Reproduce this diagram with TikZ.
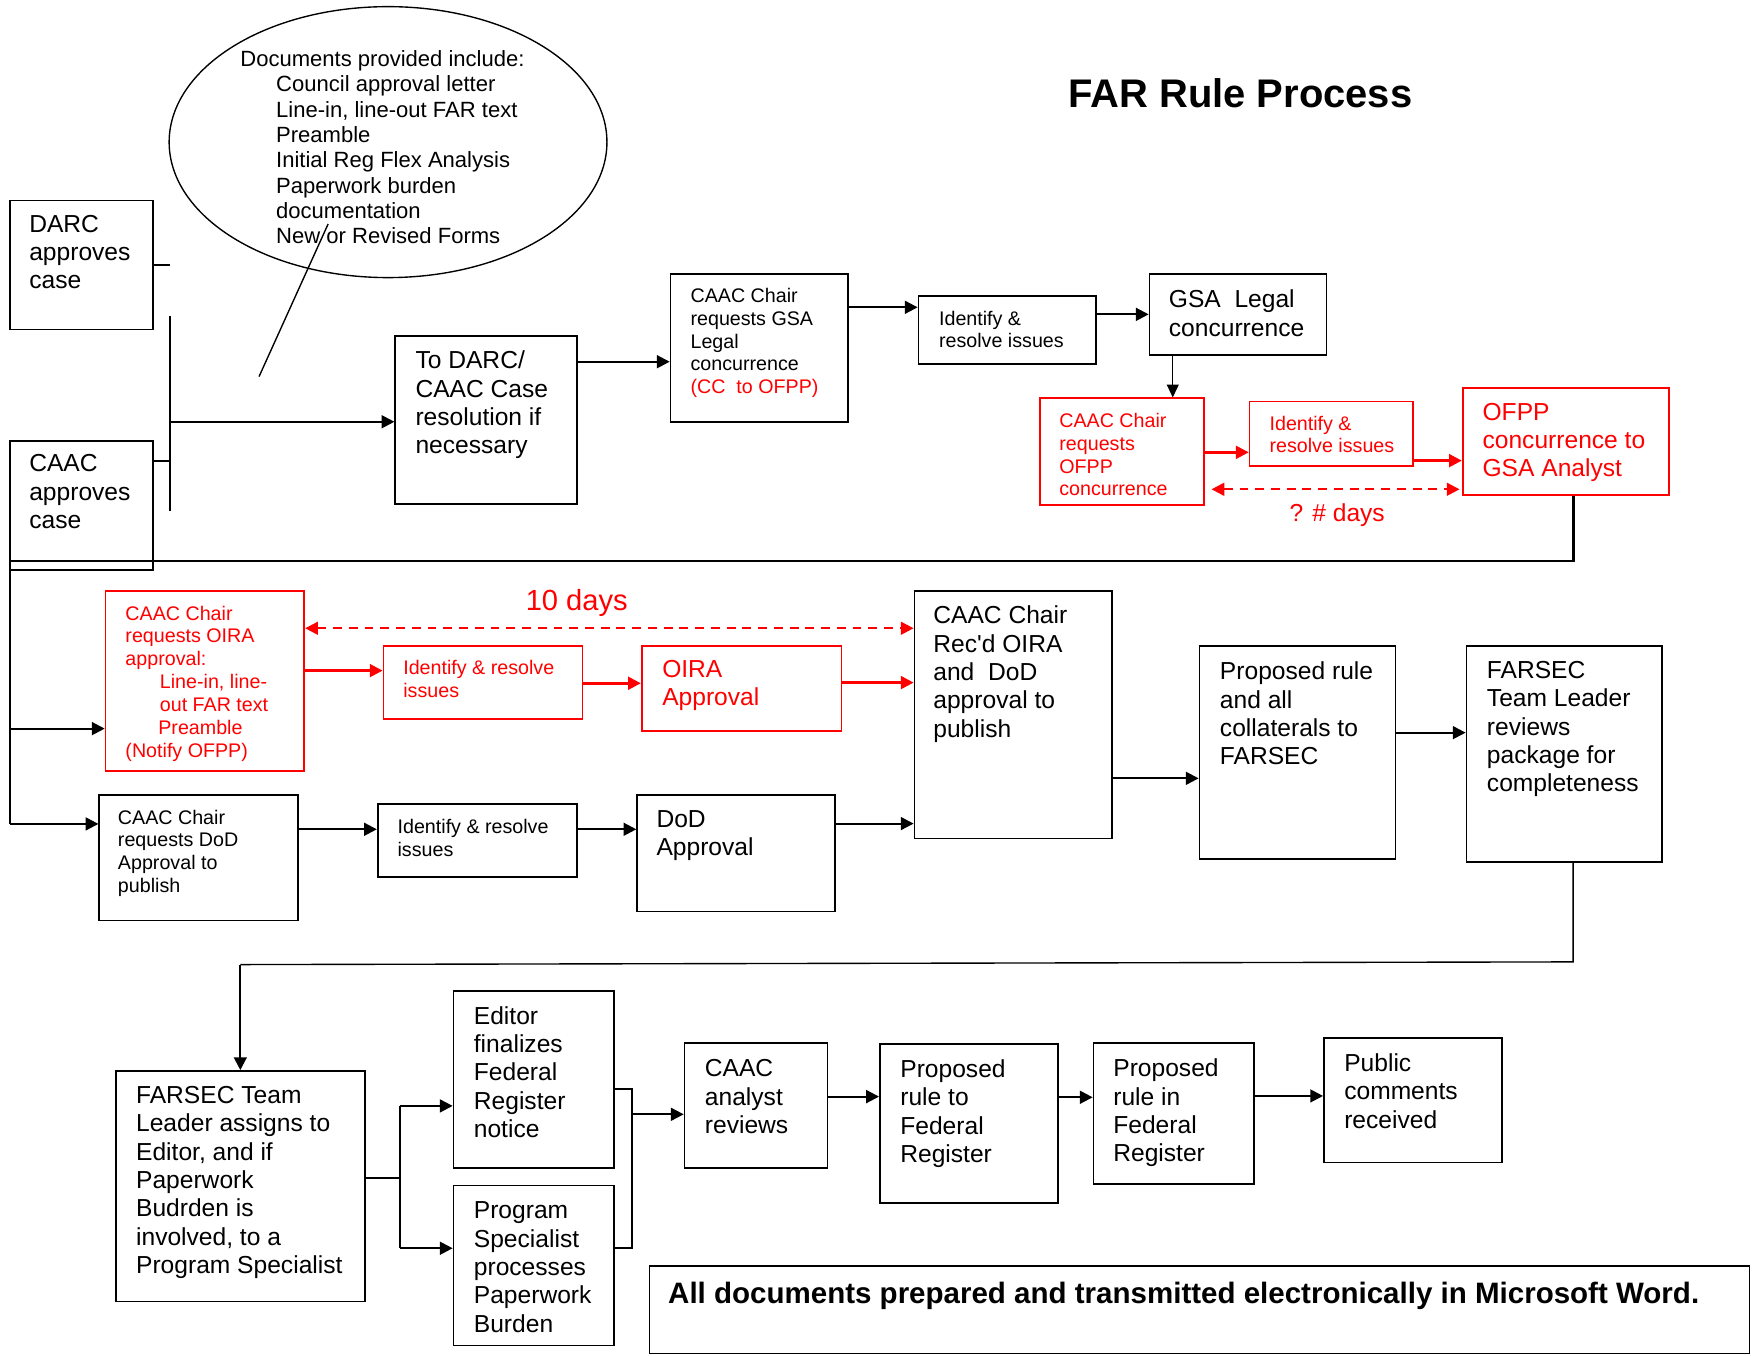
\documentclass[tikz,border=0pt]{standalone}
\usepackage{fontspec}
\setmainfont{Liberation Sans}
\usetikzlibrary{arrows.meta,fit,calc,shapes.geometric}

\begin{document}
\begin{tikzpicture}[x=0.02cm,y=-0.02cm,
  box/.style={draw, line width=0.9pt, inner sep=0pt},
  rbox/.style={box, draw=red},
  big/.style={anchor=north west, inner sep=0pt, align=left,
    font=\fontsize{12.5}{14.4}\selectfont},
  small/.style={anchor=north west, inner sep=0pt, align=left,
    font=\fontsize{10}{11.6}\selectfont},
  conn/.style={line width=1.1pt},
  thin/.style={line width=0.7pt},
  arr/.style={conn, -{Triangle[length=6.5pt,width=6.5pt]}},
  rarr/.style={arr, line width=1.3pt, draw=red, fill=red},
  rdash/.style={line width=1.1pt, draw=red, dash pattern=on 4.5pt off 3.5pt,
    {Triangle[length=6.5pt,width=6.5pt,fill=red]}-{Triangle[length=6.5pt,width=6.5pt,fill=red]}},
]
\useasboundingbox (0,0) rectangle (1568,1210);
\fill[white] (0,0) rectangle (1568,1210);

% ---------- title ----------
\node[font=\bfseries\fontsize{20.3}{23}\selectfont, inner sep=0pt] (title) at (1107.5,83) {FAR Rule Process};

% ---------- documents callout ----------
\node[draw, ellipse, line width=0.7pt, inner sep=0pt,
      minimum width=7.82cm, minimum height=4.84cm] (docs) at (346.5,126.9) {};
\node[anchor=north west, inner sep=0pt, align=left,
      font=\fontsize{11.2}{12.86}\selectfont] (docstxt) at (214.3,44.9)
  {Documents provided include:\\
   \hspace*{18.2pt}Council approval letter\\
   \hspace*{18.2pt}Line-in, line-out FAR text\\
   \hspace*{18.2pt}Preamble\\
   \hspace*{18.2pt}Initial Reg Flex Analysis\\
   \hspace*{18.2pt}Paperwork burden\\
   \hspace*{18.2pt}documentation\\
   \hspace*{18.2pt}New or Revised Forms};
\coordinate (calloutA) at (231.3,336.3);
\coordinate (calloutB) at (293,200);
\draw[thin] (calloutA) -- (calloutB);

% ---------- row 1 ----------
\node[box, fit={(9,179) (136.3,294.3)}] (darc) {};
\node[big] at (25.8,191.7) {DARC\\approves\\case};
\node[box, fit={(9,393.5) (136.3,509.3)}] (caac) {};
\node[big] at (25.8,405.7) {CAAC\\approves\\case};

\node[box, fit={(353,300) (515.5,450)}] (todarc) {};
\node[big] at (370.7,313.2) {To DARC/\\CAAC Case\\resolution if\\necessary};

\node[box, fit={(598.8,244.6) (757.4,377)}] (cgsa) {};
\node[small] at (616.3,257) {CAAC Chair\\requests GSA\\Legal\\concurrence\\\textcolor{red}{(CC\ \ to OFPP)}};

\node[box, fit={(820.2,264) (978.6,324.7)}] (id1) {};
\node[small] at (838.2,277.2) {Identify \&\\resolve issues};

\node[box, fit={(1026.5,244.6) (1184.4,317.3)}] (gsal) {};
\node[big] at (1043.4,258.5) {GSA\ \ Legal\\concurrence};

\node[rbox, fit={(928.8,355.7) (1075,451.2)}] (rofpp) {};
\node[small, text=red] at (945.6,368.6) {CAAC Chair\\requests\\OFPP\\concurrence};

\node[rbox, fit={(1115.8,358.6) (1262,416)}] (id2) {};
\node[small, text=red] at (1133.3,371) {Identify \&\\resolve issues};

\node[rbox, fit={(1306.1,346.7) (1490.4,442.3)}] (ofpp) {};
\node[big, text=red] at (1323.5,359.4) {OFPP\\concurrence to\\GSA Analyst};

\node[text=red, font=\fontsize{12.5}{14.4}\selectfont, inner sep=0pt] (qdays) at (1194,460) {? \# days};

% ---------- row 2 ----------
\node[rbox, fit={(94.3,527.4) (271.7,688.4)}] (roira) {};
\node[small, text=red] at (111.7,540.6)
  {CAAC Chair\\requests OIRA\\approval:\\
   \hspace*{17.5pt}Line-in, line-\\
   \hspace*{17.5pt}out FAR text\\
   \hspace*{16.7pt}Preamble\\
   (Notify OFPP)};

\node[text=red, font=\fontsize{14.8}{17}\selectfont, inner sep=0pt] (tendays) at (515,538) {10 days};

\node[rbox, fit={(342.4,576.5) (520.2,642)}] (id3) {};
\node[small, text=red] at (359.8,589.1) {Identify \& resolve\\issues};

\node[rbox, fit={(573,576.5) (751.4,652.4)}] (oira) {};
\node[big, text=red] at (591,589.4) {OIRA\\Approval};

\node[box, fit={(88.7,710.1) (266,822)}] (cdod) {};
\node[small] at (105,722.8) {CAAC Chair\\requests DoD\\Approval to\\publish};

\node[box, fit={(337.3,718.2) (515.2,783.3)}] (id4) {};
\node[small] at (354.7,731.1) {Identify \& resolve\\issues};

\node[box, fit={(569,710.1) (745.7,814)}] (dod) {};
\node[big] at (585.9,723.3) {DoD\\Approval};

\node[box, fit={(816.6,527.7) (993.2,748.8)}] (recd) {};
\node[big] at (833.1,540.9) {CAAC Chair\\Rec\textquotesingle d OIRA\\and\ \ DoD\\approval to\\publish};

\node[box, fit={(1071.1,576.8) (1246.1,767)}] (prop) {};
\node[big] at (1089,590.9) {Proposed rule\\and all\\collaterals to\\FARSEC};

\node[box, fit={(1309.5,576.8) (1484,769.6)}] (ftl) {};
\node[big] at (1327.4,590.3) {FARSEC\\Team Leader\\reviews\\package for\\completeness};

% ---------- row 3 ----------
\node[box, fit={(103.9,956.3) (326.2,1162.2)}] (fteam) {};
\node[big] at (121.2,969.8) {FARSEC Team\\Leader assigns to\\Editor, and if\\Paperwork\\Budrden is\\involved, to a\\Program Specialist};

\node[box, fit={(405,884.8) (548,1043.2)}] (editor) {};
\node[big] at (422.8,898.3) {Editor\\finalizes\\Federal\\Register\\notice};

\node[box, fit={(405,1058.6) (548,1201.5)}] (prog) {};
\node[big] at (422.8,1073) {Program\\Specialist\\processes\\Paperwork\\Burden};

\node[box, fit={(611.3,931.5) (738.9,1043.2)}] (analyst) {};
\node[big] at (629.1,945.7) {CAAC\\analyst\\reviews};

\node[box, fit={(785.7,932.1) (944.9,1074.4)}] (ptofr) {};
\node[big] at (803.6,946) {Proposed\\rule to\\Federal\\Register};

\node[box, fit={(976.5,931) (1119.4,1057.5)}] (pinfr) {};
\node[big] at (993.8,945.2) {Proposed\\rule in\\Federal\\Register};

\node[box, fit={(1182.2,927.1) (1341.3,1038.1)}] (public) {};
\node[big] at (1200,940.6) {Public\\comments\\received};

\node[box, fit={(580,1130.2) (1562.2,1208.5)}] (note) {};
\node[anchor=west, inner sep=0pt, font=\bfseries\fontsize{15}{17}\selectfont] at (596.3,1157)
  {All documents prepared and transmitted electronically in Microsoft Word.};

% ---------- connectors: row 1 ----------
\coordinate (busT) at (151.8,282.4);
\coordinate (busB) at (151.8,456.5);
\draw[conn] (darc.east |- 0,236.9) -- (busT |- 0,236.9);
\draw[conn] (caac.east |- 0,411.6) -- (busT |- 0,411.6);
\draw[conn] (busT) -- (busB);
\draw[arr] (busT |- 0,376.6) -- (todarc.west |- 0,376.6);
\draw[arr] (todarc.east |- 0,323) -- (cgsa.west |- 0,323);
\draw[arr] (cgsa.east |- 0,274.4) -- (id1.west |- 0,274.4);
\draw[arr] (id1.east |- 0,280.7) -- (gsal.west |- 0,280.7);
\draw[thin, -{Triangle[length=6.5pt,width=6pt]}] (gsal.south -| 1047.2,0) -- (rofpp.north -| 1047.2,0);
\draw[rarr] (rofpp.east |- 0,403.9) -- (id2.west |- 0,403.9);
\draw[rarr] (id2.east |- 0,411.3) -- (ofpp.west |- 0,411.3);
\draw[rdash] ($(rofpp.east |- 0,436.9)+(6,0)$) -- ($(ofpp.west |- 0,436.9)+(-2,0)$);

% return to the second row
\coordinate (retR) at (1405,500.9);
\coordinate (retL) at (9,500.9);
\draw[conn] (ofpp.south -| retR) -- (retR) -- (retL) -- (retL |- 0,735.7);
\draw[arr] (retL |- 0,735.7) -- (cdod.west |- 0,735.7);
\draw[arr] (retL |- 0,650.6) -- (roira.west |- 0,650.6);

% ---------- connectors: row 2 ----------
\draw[rarr] (roira.east |- 0,598.8) -- (id3.west |- 0,598.8);
\draw[rarr] (id3.east |- 0,610.1) -- (oira.west |- 0,610.1);
\draw[rarr] (oira.east |- 0,609.5) -- (recd.west |- 0,609.5);
\draw[rdash] (roira.east |- 0,561) -- (recd.west |- 0,561);
\draw[arr] (cdod.east |- 0,740.5) -- (id4.west |- 0,740.5);
\draw[arr] (id4.east |- 0,740.5) -- (dod.west |- 0,740.5);
\draw[arr] (dod.east |- 0,735.4) -- (recd.west |- 0,735.4);
\draw[arr] (recd.east |- 0,695) -- (prop.west |- 0,695);
\draw[arr] (prop.east |- 0,654.2) -- (ftl.west |- 0,654.2);

% down to the third row
\coordinate (dnR) at (1404.7,858.9);
\coordinate (dnL) at (214.6,861.3);
\draw[thin] (ftl.south -| dnR) -- (dnR) -- (dnL);
\draw[conn, -{Triangle[length=6.5pt,width=6.5pt]}] (dnL) -- (fteam.north -| dnL);

% ---------- connectors: row 3 ----------
\coordinate (splitT) at (357.1,987.5);
\coordinate (splitB) at (357.1,1114.6);
\draw[conn] (fteam.east |- 0,1051.5) -- (splitT |- 0,1051.5);
\draw[conn] (splitT) -- (splitB);
\draw[arr] (splitT) -- (editor.west |- splitT);
\draw[arr] (splitB) -- (prog.west |- splitB);
\coordinate (mergeT) at (564.4,972.6);
\coordinate (mergeB) at (564.4,1114.6);
\draw[conn] (editor.east |- mergeT) -- (mergeT) -- (mergeB) -- (prog.east |- mergeB);
\draw[arr] (mergeT |- 0,995) -- (analyst.west |- 0,995);
\draw[arr] (analyst.east |- 0,979.2) -- (ptofr.west |- 0,979.2);
\draw[arr] (ptofr.east |- 0,979.8) -- (pinfr.west |- 0,979.8);
\draw[arr] (pinfr.east |- 0,978.6) -- (public.west |- 0,978.6);
\end{tikzpicture}
\end{document}
